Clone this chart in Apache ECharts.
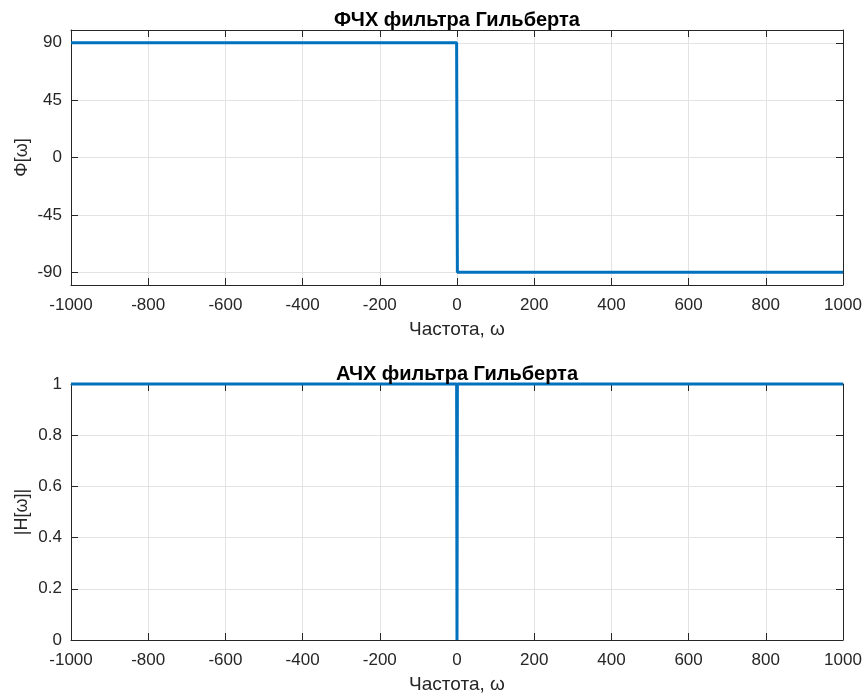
<!DOCTYPE html>
<html>
<head>
<meta charset="utf-8">
<script src="https://cdn.jsdelivr.net/npm/echarts@6/dist/echarts.min.js"></script>
<style>html,body{margin:0;padding:0;background:#fff}#c{width:865px;height:695px}</style>
</head>
<body>
<div id="c"></div>
<script>
var freq = [-1000, -1, 0, 1, 1000];
var phase = [90, 90, 0, -90, -90];
var ampl = [1, 1, 0, 1, 1];
var xTicks = [-1000, -800, -600, -400, -200, 0, 200, 400, 600, 800, 1000];
var phaseTicks = [-90, -45, 0, 45, 90];
var amplTicks = [0, 0.2, 0.4, 0.6, 0.8, 1];
var titles = ['ФЧХ фильтра Гильберта', 'АЧХ фильтра Гильберта'];
var xName = 'Частота, ω';
var yNames = ['Φ[ω]', '|H[ω]|'];

var FONT = "'Liberation Sans', Arial, Helvetica, sans-serif";
var AX = '#262626';
var GRIDC = '#e3e3e3';
var BLUE = '#0072BD';

function pairs(xs, ys) { return xs.map(function (x, i) { return [x, ys[i]]; }); }
function plain(v) { return String(v); }

function xAxisMain(gi) {
  return {
    type: 'value', gridIndex: gi, min: -1000, max: 1000, interval: 200,
    position: 'bottom',
    name: xName, nameLocation: 'middle', nameGap: 35, nameMoveOverlap: false,
    nameTextStyle: { fontFamily: FONT, fontSize: 19, color: AX },
    axisLine: { onZero: false, lineStyle: { color: AX, width: 1 } },
    axisTick: { inside: true, length: 7, lineStyle: { color: AX }, customValues: xTicks },
    axisLabel: { fontFamily: FONT, fontSize: 17, color: AX, margin: 12, customValues: xTicks, formatter: plain },
    splitLine: { show: true, lineStyle: { color: GRIDC, width: 1 } }
  };
}
function xAxisTop(gi) {
  return {
    type: 'value', gridIndex: gi, min: -1000, max: 1000, interval: 200,
    position: 'top',
    axisLine: { onZero: false, lineStyle: { color: AX, width: 1 } },
    axisTick: { inside: true, length: 7, lineStyle: { color: AX } },
    axisLabel: { show: false }, splitLine: { show: false }
  };
}
function yAxisMain(gi, min, max, ticks, name, gap) {
  return {
    type: 'value', gridIndex: gi, min: min, max: max, position: 'left',
    name: name, nameLocation: 'middle', nameGap: gap, nameRotate: 90, nameMoveOverlap: false,
    nameTextStyle: { fontFamily: FONT, fontSize: 18, color: AX },
    axisLine: { onZero: false, lineStyle: { color: AX, width: 1 } },
    axisTick: { inside: true, length: 7, lineStyle: { color: AX }, customValues: ticks },
    axisLabel: { fontFamily: FONT, fontSize: 17, color: AX, margin: 9, customValues: ticks, formatter: plain },
    splitLine: { show: true, lineStyle: { color: GRIDC, width: 1 } }
  };
}
function yAxisRight(gi, min, max, ticks) {
  return {
    type: 'value', gridIndex: gi, min: min, max: max, position: 'right',
    axisLine: { onZero: false, lineStyle: { color: AX, width: 1 } },
    axisTick: { inside: true, length: 7, lineStyle: { color: AX }, customValues: ticks },
    axisLabel: { show: false, customValues: ticks }, splitLine: { show: false }
  };
}

var chart = echarts.init(document.getElementById('c'), null, { renderer: 'canvas' });
chart.setOption({
  animation: false,
  backgroundColor: '#ffffff',
  title: [
    { text: titles[0], left: 452, top: 5, textAlign: 'center',
      textStyle: { fontFamily: FONT, fontSize: 20, fontWeight: 'bold', color: '#000' } },
    { text: titles[1], left: 452, top: 359, textAlign: 'center',
      textStyle: { fontFamily: FONT, fontSize: 20, fontWeight: 'bold', color: '#000' } }
  ],
  grid: [
    { left: 71, right: 22, top: 30, height: 255 },
    { left: 71, right: 22, top: 384, height: 256 }
  ],
  xAxis: [xAxisMain(0), xAxisTop(0), xAxisMain(1), xAxisTop(1)],
  yAxis: [
    yAxisMain(0, -100, 100, phaseTicks, yNames[0], 40),
    yAxisRight(0, -100, 100, phaseTicks),
    yAxisMain(1, 0, 1, amplTicks, yNames[1], 40),
    yAxisRight(1, 0, 1, amplTicks)
  ],
  series: [
    { type: 'line', xAxisIndex: 0, yAxisIndex: 0, data: pairs(freq, phase), showSymbol: false,
      lineStyle: { color: BLUE, width: 3 }, clip: false, z: 5 },
    { type: 'line', xAxisIndex: 2, yAxisIndex: 2, data: pairs(freq, ampl), showSymbol: false,
      lineStyle: { color: BLUE, width: 3 }, clip: false, z: 5 }
  ]
});
</script>
</body>
</html>
